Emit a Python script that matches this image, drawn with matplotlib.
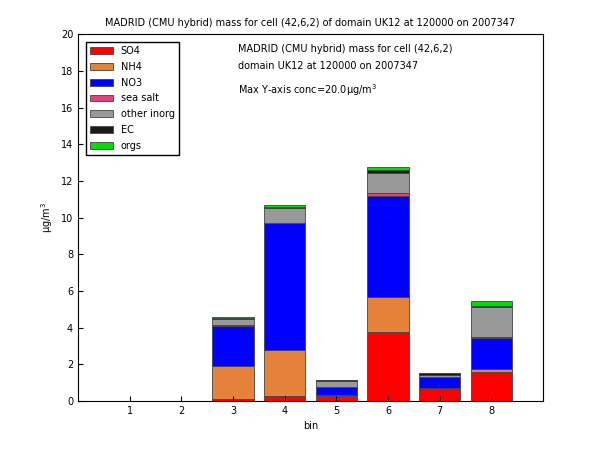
import numpy as np
import matplotlib.pyplot as plt

bins = [1, 2, 3, 4, 5, 6, 7, 8]
species = ["SO4", "NH4", "NO3", "sea salt", "other inorg", "EC", "orgs"]
colors = ["#ff0000", "#e6823a", "#0000ff", "#e6407f", "#999999", "#1a1a1a", "#00dd00"]

so4 = [0.0, 0.01, 0.12, 0.25, 0.25, 3.75, 0.65, 1.60]
nh4 = [0.0, 0.0, 1.78, 2.55, 0.10, 1.90, 0.03, 0.12]
no3 = [0.0, 0.0, 2.20, 6.90, 0.40, 5.55, 0.62, 1.73]
salt = [0.0, 0.0, 0.02, 0.02, 0.01, 0.12, 0.02, 0.02]
other = [0.0, 0.01, 0.33, 0.78, 0.33, 1.13, 0.12, 1.65]
ec = [0.0, 0.0, 0.10, 0.10, 0.04, 0.12, 0.06, 0.05]
orgs = [0.0, 0.0, 0.05, 0.10, 0.03, 0.20, 0.01, 0.30]
series = [so4, nh4, no3, salt, other, ec, orgs]

fig = plt.figure(figsize=(6, 4.5), dpi=100)
ax = fig.add_axes([0.13, 0.109, 0.775, 0.815])

bottom = np.zeros(len(bins))
for name, vals, c in zip(species, series, colors):
    ax.bar(bins, vals, 0.8, bottom=bottom, color=c, edgecolor="#444444",
           linewidth=0.6, label=name)
    bottom += np.array(vals)

ax.set_xlim(0, 9)
ax.set_ylim(0, 20)
ax.set_xticks(bins)
ax.set_yticks(range(0, 21, 2))
ax.tick_params(labelsize=7, direction="in")
ax.set_xlabel("bin", fontsize=7)
ax.set_ylabel("µg/m$^3$", fontsize=7)
ax.set_title("MADRID (CMU hybrid) mass for cell (42,6,2) of domain UK12 at 120000 on 2007347",
             fontsize=7)
ax.text(3.1, 18.0, "MADRID (CMU hybrid) mass for cell (42,6,2)\n"
        "domain UK12 at 120000 on 2007347\n"
        "Max Y-axis conc=20.0µg/m$^3$", fontsize=7, va="center", linespacing=1.9)
ax.legend(loc="upper left", fontsize=7, edgecolor="black", fancybox=False,
          framealpha=1, handlelength=2.4, borderaxespad=0.8, labelspacing=0.6)
fig.savefig("out.png")
